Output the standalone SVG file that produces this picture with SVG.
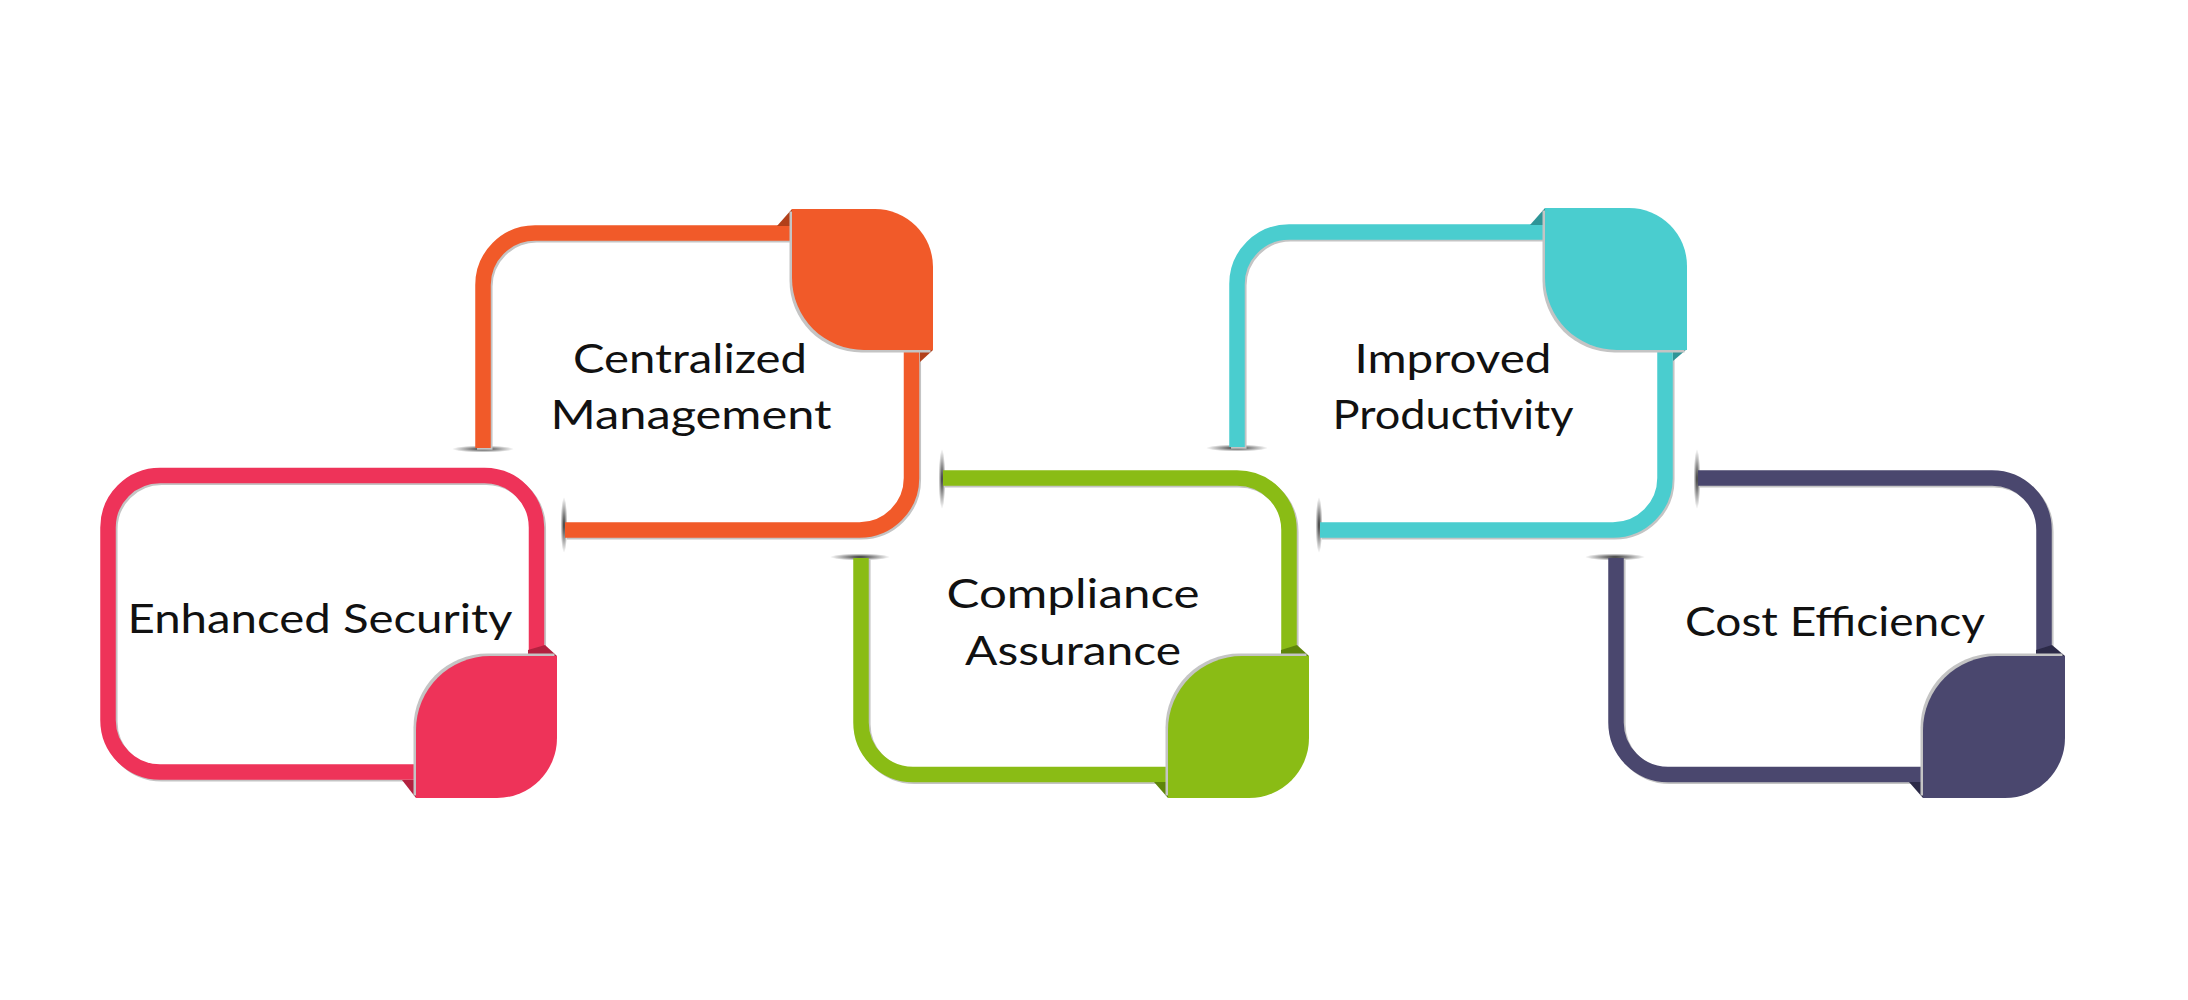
<svg xmlns="http://www.w3.org/2000/svg" width="2188" height="1000" viewBox="0 0 2188 1000">
<style>
.fr{fill:none;stroke-width:15.5;stroke-linecap:butt}
.frs{fill:none;stroke:#c4c4c4;stroke-width:15.5;stroke-linecap:butt}
.bs{fill:#c4c4c4}
.lbl{font-family:"Lato","Open Sans","Liberation Sans",sans-serif;font-size:40px;fill:#111;text-anchor:middle}
.n1{stroke:#EE3359}.n1f{fill:#EE3359}.n1d{fill:#B3213F}
.n2{stroke:#F15A29}.n2f{fill:#F15A29}.n2d{fill:#B2401A}
.n3{stroke:#8ABC15}.n3f{fill:#8ABC15}.n3d{fill:#5E850A}
.n4{stroke:#4ACDCF}.n4f{fill:#4ACDCF}.n4d{fill:#2E9597}
.n5{stroke:#4A476E}.n5f{fill:#4A476E}.n5d{fill:#2C2A48}
</style>
<defs>
<radialGradient id="cap">
<stop offset="0" stop-color="#000" stop-opacity="0.8"/>
<stop offset="0.5" stop-color="#000" stop-opacity="0.4"/>
<stop offset="1" stop-color="#000" stop-opacity="0"/>
</radialGradient>
</defs>
<rect width="2188" height="1000" fill="#fff"/>

<g id="connectors">
<ellipse cx="483" cy="449" rx="31" ry="3.5" fill="url(#cap)"/>
<ellipse cx="564" cy="525" rx="3.5" ry="28" fill="url(#cap)"/>
<ellipse cx="942" cy="479" rx="3.5" ry="30" fill="url(#cap)"/>
<ellipse cx="860" cy="557" rx="30" ry="3.5" fill="url(#cap)"/>
<ellipse cx="1237" cy="448" rx="31" ry="3.5" fill="url(#cap)"/>
<ellipse cx="1319" cy="525" rx="3.5" ry="28" fill="url(#cap)"/>
<ellipse cx="1697" cy="479" rx="3.5" ry="30" fill="url(#cap)"/>
<ellipse cx="1615" cy="557" rx="30" ry="3.5" fill="url(#cap)"/>
</g>

<g id="node-enhanced-security">
<path class="frs" transform="translate(1.8,1.8)" d="M536.5,656 V527.5 A52,52 0 0 0 484.5,475.5 H160 A52,52 0 0 0 108,527.5 V720 A52,52 0 0 0 160,772 H416"/>
<path class="fr n1" d="M536.5,660 V527.5 A52,52 0 0 0 484.5,475.5 H160 A52,52 0 0 0 108,527.5 V720 A52,52 0 0 0 160,772 H420"/>
<polygon class="n1d" points="528,650 545,645 557,656 528,656"/>
<polygon class="n1d" points="402,780 416,780 416,798"/>
<path class="bs" transform="translate(-2.5,-2.5)" d="M490,656 H557 V738 A60,60 0 0 1 497,798 H416 V730 A74,74 0 0 1 490,656 Z"/>
<path class="n1f" d="M490,656 H557 V738 A60,60 0 0 1 497,798 H416 V730 A74,74 0 0 1 490,656 Z"/>
<text class="lbl" x="320" y="633" textLength="385" lengthAdjust="spacingAndGlyphs">Enhanced Security</text>
</g>

<g id="node-centralized-management">
<path class="frs" transform="translate(1.8,1.8)" d="M483,448 V285 A52,52 0 0 1 535,233 H795 M911.5,350 V478 A52,52 0 0 1 859.5,530 H565"/>
<path class="fr n2" d="M483,448 V285 A52,52 0 0 1 535,233 H800 M911.5,345 V478 A52,52 0 0 1 859.5,530 H565"/>
<polygon class="n2d" points="777,226 792,209 792,226"/>
<polygon class="n2d" points="920,350 933,350 920,362"/>
<path class="bs" transform="translate(-2.5,2.5)" d="M792,209 H875 A58,58 0 0 1 933,267 V350 H864 A72,72 0 0 1 792,278 Z"/>
<path class="n2f" d="M792,209 H875 A58,58 0 0 1 933,267 V350 H864 A72,72 0 0 1 792,278 Z"/>
<text class="lbl" x="690" y="373" textLength="234" lengthAdjust="spacingAndGlyphs">Centralized</text>
<text class="lbl" x="691" y="429" textLength="281" lengthAdjust="spacingAndGlyphs">Management</text>
</g>

<g id="node-compliance-assurance">
<path class="frs" transform="translate(1.8,1.8)" d="M943,478 H1237 A52,52 0 0 1 1289,530 V656 M861,558 V722.5 A52,52 0 0 0 913,774.5 H1168"/>
<path class="fr n3" d="M943,478 H1237 A52,52 0 0 1 1289,530 V660 M861,558 V722.5 A52,52 0 0 0 913,774.5 H1172"/>
<polygon class="n3d" points="1281,650 1297,645 1309,656 1281,656"/>
<polygon class="n3d" points="1154,782 1168,782 1168,798"/>
<path class="bs" transform="translate(-2.5,-2.5)" d="M1242,656 H1309 V738 A60,60 0 0 1 1249,798 H1168 V730 A74,74 0 0 1 1242,656 Z"/>
<path class="n3f" d="M1242,656 H1309 V738 A60,60 0 0 1 1249,798 H1168 V730 A74,74 0 0 1 1242,656 Z"/>
<text class="lbl" x="1073" y="608" textLength="253" lengthAdjust="spacingAndGlyphs">Compliance</text>
<text class="lbl" x="1073" y="665" textLength="216" lengthAdjust="spacingAndGlyphs">Assurance</text>
</g>

<g id="node-improved-productivity">
<path class="frs" transform="translate(1.8,1.8)" d="M1237,447 V284 A52,52 0 0 1 1289,232 H1548 M1665,349 V478 A52,52 0 0 1 1613,530 H1320"/>
<path class="fr n4" d="M1237,447 V284 A52,52 0 0 1 1289,232 H1553 M1665,344 V478 A52,52 0 0 1 1613,530 H1320"/>
<polygon class="n4d" points="1530,225 1545,208 1545,225"/>
<polygon class="n4d" points="1673,349 1687,349 1673,361"/>
<path class="bs" transform="translate(-2.5,2.5)" d="M1545,208 H1629 A58,58 0 0 1 1687,266 V350 H1617 A72,72 0 0 1 1545,278 Z"/>
<path class="n4f" d="M1545,208 H1629 A58,58 0 0 1 1687,266 V350 H1617 A72,72 0 0 1 1545,278 Z"/>
<text class="lbl" x="1453" y="373" textLength="197" lengthAdjust="spacingAndGlyphs">Improved</text>
<text class="lbl" x="1453" y="429" textLength="241" lengthAdjust="spacingAndGlyphs">Productivity</text>
</g>

<g id="node-cost-efficiency">
<path class="frs" transform="translate(1.8,1.8)" d="M1698,478 H1992 A52,52 0 0 1 2044,530 V656 M1616,558 V722.5 A52,52 0 0 0 1668,774.5 H1923"/>
<path class="fr n5" d="M1698,478 H1992 A52,52 0 0 1 2044,530 V660 M1616,558 V722.5 A52,52 0 0 0 1668,774.5 H1927"/>
<polygon class="n5d" points="2036,650 2052,645 2065,656 2036,656"/>
<polygon class="n5d" points="1909,782 1923,782 1923,798"/>
<path class="bs" transform="translate(-2.5,-2.5)" d="M1997,656 H2065 V738 A60,60 0 0 1 2005,798 H1923 V730 A74,74 0 0 1 1997,656 Z"/>
<path class="n5f" d="M1997,656 H2065 V738 A60,60 0 0 1 2005,798 H1923 V730 A74,74 0 0 1 1997,656 Z"/>
<text class="lbl" x="1835" y="636" textLength="300" lengthAdjust="spacingAndGlyphs">Cost Efficiency</text>
</g>
</svg>
